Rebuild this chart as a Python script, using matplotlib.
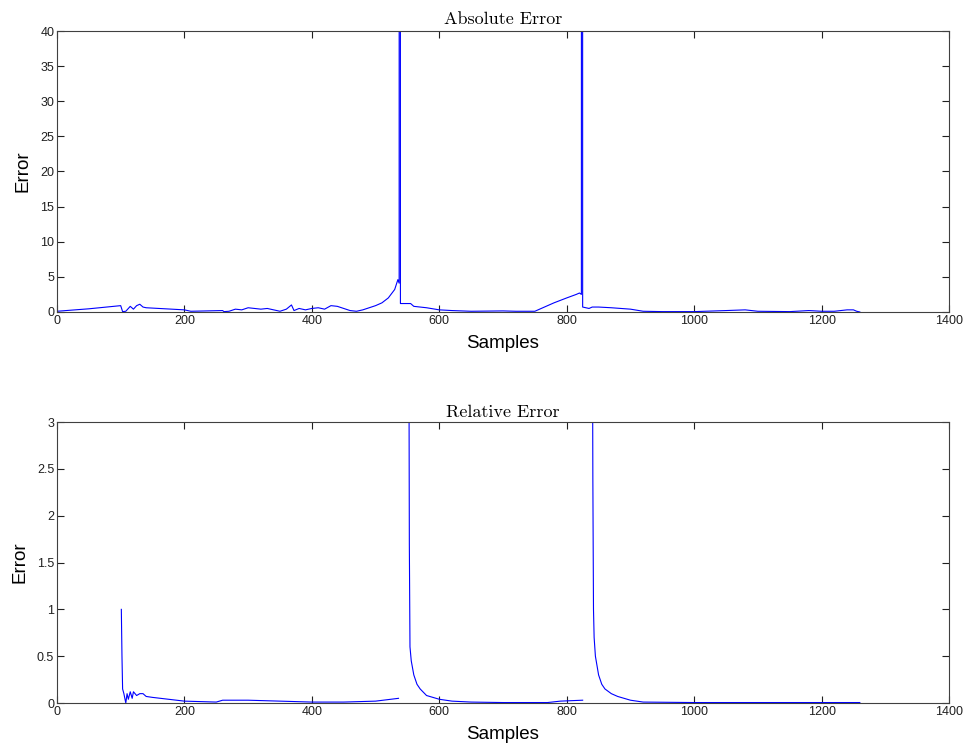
import numpy as np
import matplotlib
matplotlib.use('Agg')
import matplotlib.pyplot as plt
from matplotlib.ticker import FormatStrFormatter, MultipleLocator

plt.rcParams['font.family'] = ['Liberation Sans', 'DejaVu Sans']

# ============================================================
# DATA
# ============================================================
abs_x = [0, 50, 100, 103, 108, 115, 120, 125, 130, 135, 140, 160, 200, 210, 260, 262, 270,
         280, 290, 300, 310, 320, 330, 340, 350, 360, 368, 372, 380, 390, 400, 410, 420,
         430, 440, 450, 460, 470, 480, 490, 500, 510, 520, 530, 535, 537, 538, 539,
         555, 560, 580, 600, 620, 650, 700, 720, 750, 760, 780, 800, 815, 820, 823,
         824, 825, 835, 840, 850, 870, 900, 920, 950, 1000, 1050, 1080, 1100, 1150, 1180,
         1200, 1220, 1240, 1250, 1255, 1260]
abs_y = [0.1, 0.45, 0.9, 0.05, 0.1, 0.8, 0.4, 0.9, 1.1, 0.7, 0.6, 0.5, 0.3, 0.1, 0.2, 0.05, 0.1,
         0.4, 0.3, 0.6, 0.5, 0.4, 0.5, 0.3, 0.1, 0.4, 1.0, 0.2, 0.5, 0.3, 0.5, 0.6, 0.4,
         0.9, 0.8, 0.5, 0.2, 0.1, 0.3, 0.6, 0.9, 1.3, 2.0, 3.2, 4.6, 4.1, 1000.0, 1.2,
         1.2, 0.8, 0.6, 0.3, 0.2, 0.1, 0.15, 0.1, 0.1, 0.5, 1.3, 2.0, 2.5, 2.7, 2.5,
         1000.0, 0.7, 0.5, 0.7, 0.7, 0.6, 0.4, 0.1, 0.05, 0.05, 0.2, 0.3, 0.1, 0.05, 0.2,
         0.1, 0.1, 0.3, 0.3, 0.1, 0.0]

rel_x = [101, 102, 103, 105, 108, 110, 112, 115, 118, 120, 125, 130, 135, 140, 150, 200,
         250, 260, 300, 350, 400, 450, 500, 536,
         537,
         552, 553, 554, 556, 560, 565, 570, 580, 600, 620, 650, 700, 770, 790, 825,
         826,
         840, 841, 842, 843, 845, 850, 855, 860, 870, 880, 900, 920, 1000, 1100, 1200, 1260]
rel_y = [1.0, 0.5, 0.15, 0.1, 0.0, 0.1, 0.04, 0.12, 0.05, 0.12, 0.08, 0.1, 0.1, 0.07, 0.06, 0.02,
         0.01, 0.03, 0.03, 0.02, 0.01, 0.01, 0.02, 0.05,
         np.nan,
         5.0, 1.7, 0.6, 0.45, 0.3, 0.2, 0.15, 0.08, 0.04, 0.02, 0.01, 0.005, 0.005, 0.02, 0.03,
         np.nan,
         5.0, 2.4, 1.0, 0.7, 0.5, 0.3, 0.2, 0.15, 0.1, 0.07, 0.03, 0.01, 0.005, 0.005, 0.005, 0.005]

# ============================================================
# FIGURE
# ============================================================
fig = plt.figure(figsize=(9.69, 7.51), dpi=100)

TITLE_FONT = 'cmr10'
SPINE_COL = '#404040'

def style(ax, ymax, ystep, fmt):
    ax.set_xlim(0, 1400)
    ax.set_ylim(0, ymax)
    ax.xaxis.set_major_locator(MultipleLocator(200))
    ax.yaxis.set_major_locator(MultipleLocator(ystep))
    ax.yaxis.set_major_formatter(FormatStrFormatter(fmt))
    ax.tick_params(direction='in', top=True, right=True, length=5, width=0.8,
                   labelsize=9, colors='#202020', pad=2)
    for s in ax.spines.values():
        s.set_color(SPINE_COL)
        s.set_linewidth(0.8)
    ax.set_xlabel('Samples', fontsize=13.5, labelpad=6)
    ax.set_ylabel('Error', fontsize=13.5, labelpad=6)

# ----- Absolute Error -----
ax1 = fig.add_axes([0.0588, 0.5846, 0.9206, 0.3741])
ax1.plot(abs_x, abs_y, color='blue', linewidth=0.8)
style(ax1, 40, 5, '%g')
ax1.set_title('Absolute Error', fontfamily=TITLE_FONT, fontsize=13, pad=5)

# ----- Relative Error -----
ax2 = fig.add_axes([0.0588, 0.0639, 0.9206, 0.3741])
ax2.plot(rel_x, rel_y, color='blue', linewidth=0.8)
style(ax2, 3, 0.5, '%g')
ax2.set_title('Relative Error', fontfamily=TITLE_FONT, fontsize=13, pad=4)

plt.savefig('out.png', dpi=100)
